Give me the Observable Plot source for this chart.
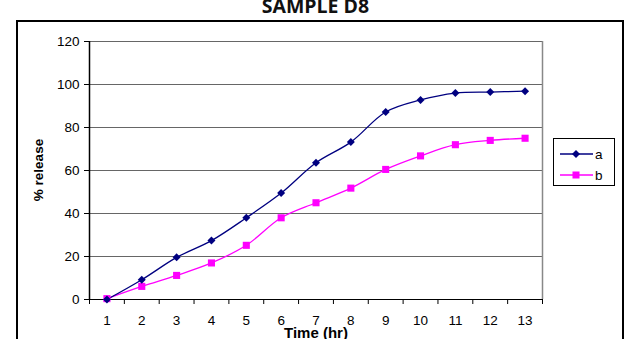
<!DOCTYPE html>
<html>
<head>
<meta charset="utf-8">
<script src="https://cdn.jsdelivr.net/npm/d3@7"></script>
<script src="https://cdn.jsdelivr.net/npm/@observablehq/plot@0.6"></script>
<style>
  html, body { margin: 0; padding: 0; background: #fff; }
  #wrap { position: relative; width: 631px; height: 339px; overflow: hidden; font-family: "Liberation Sans", Arial, sans-serif; }
  #border { position: absolute; left: 16px; top: 20px; width: 604px; height: 400px; border: 2px solid #000; box-sizing: content-box; }
  #title { position: absolute; left: 0; width: 631px; top: -8px; text-align: center; font-family: "Open Sans", sans-serif; font-weight: bold; font-size: 19.5px; color: #111; }
  #ylab { position: absolute; left: 38px; top: 170px; transform: translate(-50%, -50%) rotate(-90deg); font-weight: bold; font-size: 13.5px; white-space: nowrap; }
  #xlab { position: absolute; left: 316px; top: 324px; transform: translateX(-50%); font-weight: bold; font-size: 15px; white-space: nowrap; }
  #legend { position: absolute; left: 553px; top: 138px; width: 60px; height: 46px; border: 1px solid #000; background: #fff; }
  #legend .row { position: absolute; left: 6px; height: 14px; font-size: 13.5px; display: flex; align-items: center; }
  #plot { position: absolute; left: 0; top: 0; }
</style>
</head>
<body>
<div id="wrap">
  <div id="border"></div>
  <div id="plot"></div>
  <div id="title"></div>
  <div id="ylab"></div>
  <div id="xlab"></div>
  <div id="legend"></div>
</div>
<script>
const title = "SAMPLE D8";
const xLabel = "Time (hr)";
const yLabel = "% release";
const times = [1, 2, 3, 4, 5, 6, 7, 8, 9, 10, 11, 12, 13];
const seriesA = [0, 9.2, 19.6, 27.4, 38, 49.5, 63.6, 73.2, 87.2, 92.8, 96, 96.5, 96.9];
const seriesB = [0.4, 6.1, 11.2, 17, 25.2, 38, 45, 51.8, 60.5, 66.8, 72, 74, 75];
const yTicks = [0, 20, 40, 60, 80, 100, 120];
const seriesNames = ["a", "b"];
const colorA = "#000080";
const colorB = "#FF00FF";

const dataA = times.map((t, i) => ({t, v: seriesA[i]}));
const dataB = times.map((t, i) => ({t, v: seriesB[i]}));
const bounds = times.map(t => t - 0.5).concat([times[times.length - 1] + 0.5]);

const chart = Plot.plot({
  width: 631,
  height: 339,
  marginLeft: 89,
  marginRight: 89,
  marginTop: 41,
  marginBottom: 40,
  style: {fontFamily: "'Liberation Sans', Arial, sans-serif", fontSize: "13px", color: "#000", background: "transparent", overflow: "visible"},
  x: {domain: [bounds[0], bounds[bounds.length - 1]]},
  y: {domain: [0, 120]},
  marks: [
    Plot.gridY(yTicks.slice(1), {stroke: "#666", strokeOpacity: 1}),
    Plot.ruleX([bounds[bounds.length - 1]], {stroke: "#888", strokeWidth: 1.5}),
    Plot.axisY({ticks: yTicks, tickSize: 5, tickPadding: 5, label: null, fontSize: 13.5}),
    Plot.axisX({ticks: bounds, tickSize: 5, tickFormat: () => "", label: null}),
    Plot.axisX({ticks: times, tickSize: 0, tickPadding: 16, label: null, fontSize: 13.5}),
    Plot.ruleX([bounds[0]], {stroke: "#000", strokeWidth: 1.5}),
    Plot.ruleY([0], {stroke: "#000", strokeWidth: 1.2}),
    Plot.line(dataB, {x: "t", y: "v", stroke: colorB, strokeWidth: 1.3, curve: "catmull-rom"}),
    Plot.line(dataA, {x: "t", y: "v", stroke: colorA, strokeWidth: 1.3, curve: "catmull-rom"}),
    Plot.dot(dataB, {x: "t", y: "v", symbol: "square", r: 4, fill: colorB, stroke: "none"}),
    Plot.dot(dataA, {x: "t", y: "v", symbol: "diamond2", r: 3.6, fill: colorA, stroke: "none"})
  ]
});
document.getElementById("plot").appendChild(chart);
document.getElementById("title").textContent = title;
document.getElementById("ylab").textContent = yLabel;
document.getElementById("xlab").textContent = xLabel;

const legend = document.getElementById("legend");
const legendItems = [
  {name: seriesNames[0], color: colorA, shape: "diamond"},
  {name: seriesNames[1], color: colorB, shape: "square"}
];
legendItems.forEach((it, i) => {
  const row = document.createElement("div");
  row.className = "row";
  row.style.top = (8 + i * 21) + "px";
  const marker = it.shape === "diamond"
    ? `<polygon points="16,3 20,7 16,11 12,7" fill="${it.color}"/>`
    : `<rect x="12.5" y="3.5" width="7" height="7" fill="${it.color}"/>`;
  row.innerHTML = `<svg width="33" height="14"><line x1="0" x2="33" y1="7" y2="7" stroke="${it.color}" stroke-width="1.3"/>${marker}</svg><span style="margin-left:2px">${it.name}</span>`;
  legend.appendChild(row);
});
</script>
</body>
</html>
